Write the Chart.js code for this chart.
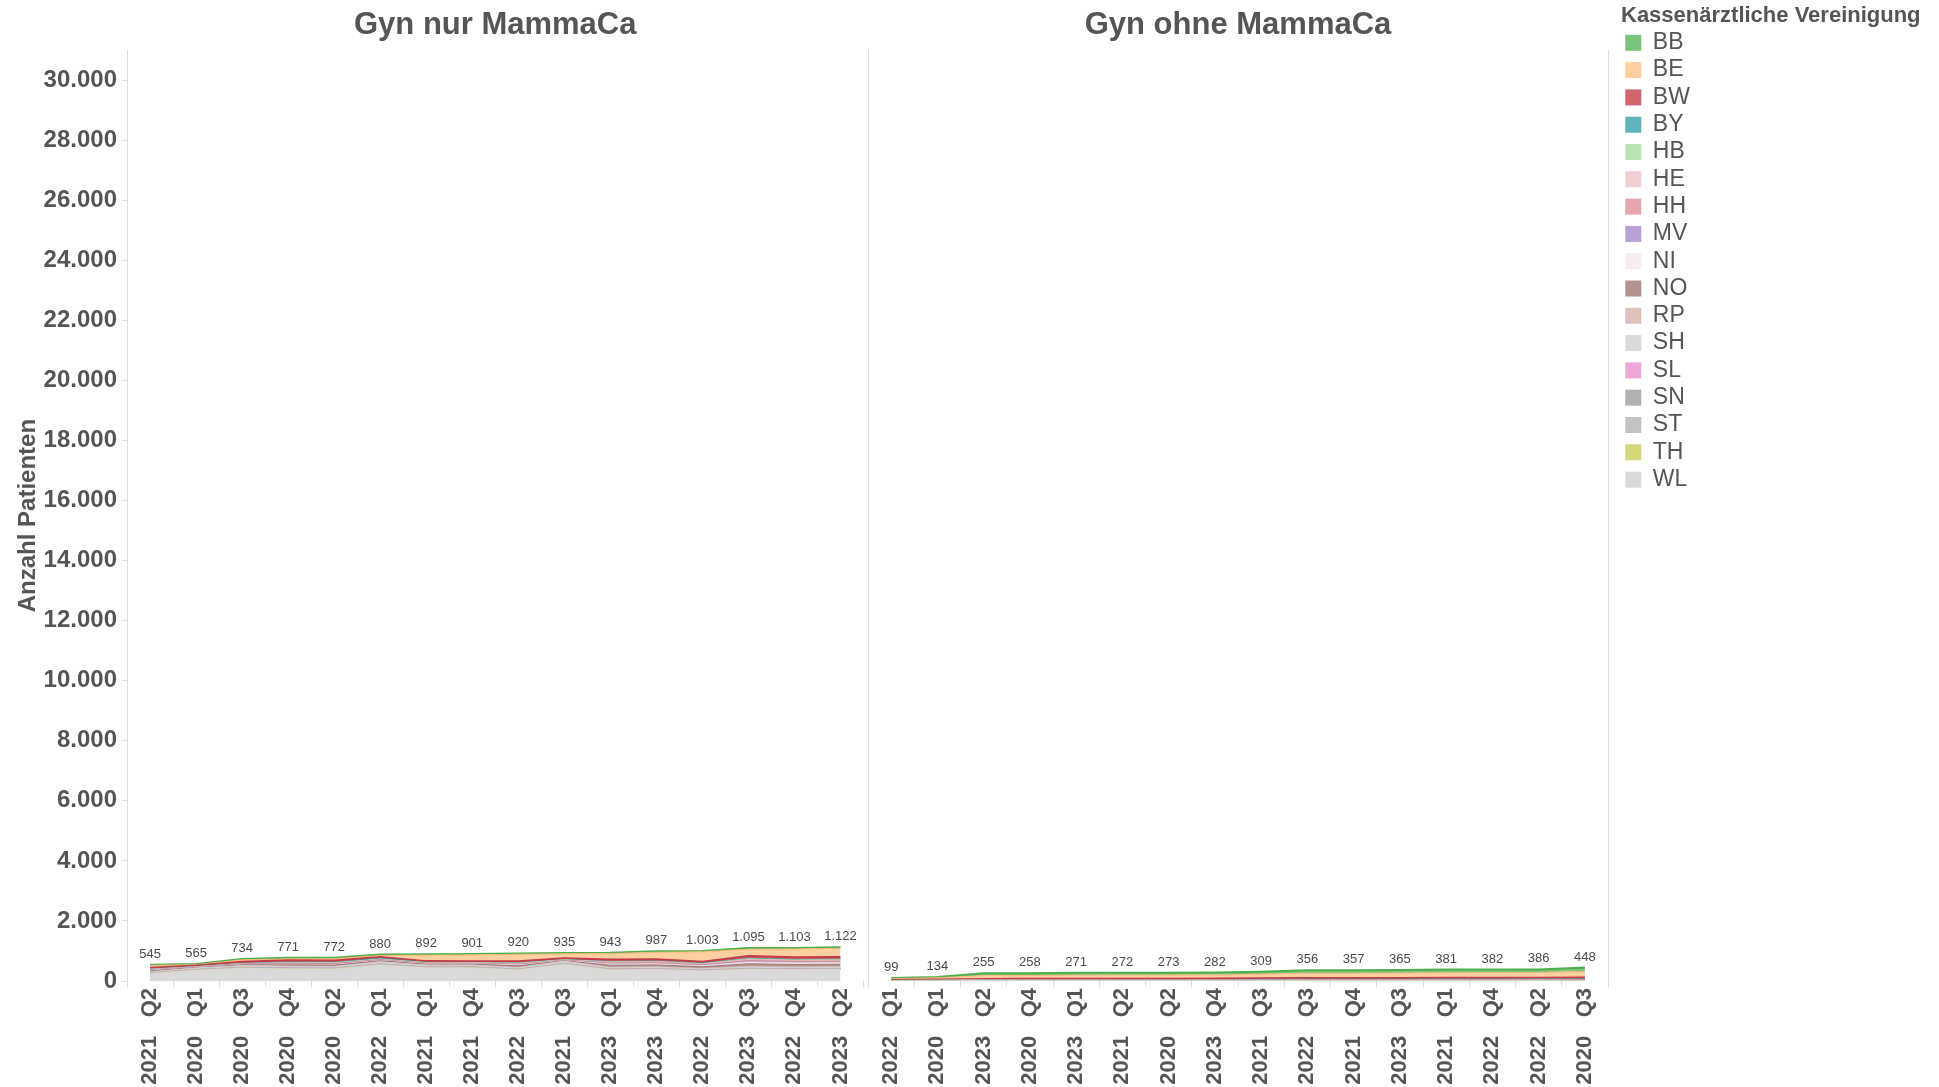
<!DOCTYPE html>
<html lang="de">
<head>
<meta charset="utf-8">
<title>Anzahl Patienten je Quartal und KV</title>
<script src="https://cdn.jsdelivr.net/npm/chart.js@4.4.1/dist/chart.umd.min.js"></script>
<style>
  html, body { margin: 0; padding: 0; background: #fff; }
  #wrap { position: relative; width: 1939px; height: 1087px; overflow: hidden; }
  .panel { position: absolute; top: 0; height: 1087px; }
  #left { left: 0; width: 868px; }
  #right { left: 867px; width: 1072px; }
</style>
</head>
<body>
<div id="wrap">
  <div class="panel" id="left"><canvas id="chartNur"></canvas></div>
  <div class="panel" id="right"><canvas id="chartOhne"></canvas></div>
</div>
<script>
// x axis order as exported from Tableau (not chronological)
const quartersNur = ['2021 Q2', '2020 Q1', '2020 Q3', '2020 Q4', '2020 Q2', '2022 Q1', '2021 Q1', '2021 Q4',
  '2022 Q3', '2021 Q3', '2023 Q1', '2023 Q4', '2022 Q2', '2023 Q3', '2022 Q4', '2023 Q2'];
const quartersOhne = ['2022 Q1', '2020 Q1', '2023 Q2', '2020 Q4', '2023 Q1', '2021 Q2', '2020 Q2', '2023 Q4',
  '2021 Q3', '2022 Q3', '2021 Q4', '2023 Q3', '2021 Q1', '2022 Q4', '2022 Q2', '2020 Q3'];

// totals printed above each point
const totalsNur = [545, 565, 734, 771, 772, 880, 892, 901, 920, 935, 943, 987, 1003, 1095, 1103, 1122];
const totalsOhne = [99, 134, 255, 258, 271, 272, 273, 282, 309, 356, 357, 365, 381, 382, 386, 448];

const yTicks = [0, 2000, 4000, 6000, 8000, 10000, 12000, 14000, 16000, 18000, 20000, 22000, 24000, 26000, 28000, 30000];

// Gyn nur MammaCa, per KV
const BB_nur = [25, 20, 30, 30, 30, 30, 30, 30, 30, 30, 30, 30, 30, 35, 35, 35];
const BE_nur = [80, 30, 60, 50, 60, 50, 200, 210, 230, 150, 200, 230, 330, 230, 280, 290];
const BW_nur = [40, 30, 50, 60, 55, 40, 40, 40, 50, 40, 60, 60, 50, 70, 70, 70];
const BY_nur = [10, 8, 12, 20, 20, 30, 12, 12, 15, 10, 15, 15, 15, 20, 18, 18];
const HB_nur = [5, 3, 5, 8, 8, 8, 5, 5, 8, 4, 10, 10, 10, 15, 12, 12];
const HE_nur = [15, 8, 12, 20, 22, 15, 12, 12, 25, 8, 30, 30, 28, 40, 38, 38];
const HH_nur = [10, 6, 10, 18, 18, 15, 12, 12, 20, 8, 25, 25, 22, 35, 32, 32];
const MV_nur = [5, 3, 5, 8, 8, 6, 5, 5, 8, 4, 10, 10, 10, 15, 12, 12];
const NI_nur = [15, 8, 12, 20, 22, 15, 15, 15, 30, 8, 40, 40, 35, 60, 55, 55];
const NO_nur = [30, 15, 25, 40, 40, 30, 30, 30, 50, 15, 60, 60, 50, 80, 75, 75];
const RP_nur = [10, 5, 8, 12, 12, 10, 8, 8, 15, 5, 20, 20, 18, 30, 25, 25];
const SH_nur = [30, 45, 50, 48, 47, 60, 52, 52, 43, 65, 42, 42, 38, 43, 42, 42];
const SL_nur = [5, 3, 5, 5, 5, 5, 3, 3, 5, 3, 8, 8, 8, 10, 8, 8];
const SN_nur = [10, 15, 15, 15, 15, 18, 15, 15, 12, 18, 12, 12, 12, 12, 12, 12];
const ST_nur = [8, 10, 10, 10, 10, 12, 10, 10, 10, 12, 10, 10, 10, 10, 10, 10];
const TH_nur = [5, 3, 5, 5, 5, 5, 5, 5, 5, 3, 5, 5, 5, 5, 5, 5];
const WL_nur = [242, 353, 420, 402, 395, 531, 438, 437, 364, 552, 366, 380, 332, 385, 374, 383];

// Gyn ohne MammaCa, per KV
const BB_ohne = [20, 28, 75, 74, 78, 77, 76, 78, 80, 98, 97, 100, 104, 100, 102, 125];
const BE_ohne = [45, 60, 110, 112, 118, 119, 120, 124, 140, 160, 162, 166, 172, 170, 176, 205];
const BW_ohne = [12, 16, 25, 26, 27, 27, 28, 29, 32, 36, 36, 37, 40, 48, 42, 50];
const BY_ohne = [4, 5, 8, 8, 8, 8, 8, 8, 9, 10, 10, 10, 11, 12, 11, 12];
const HB_ohne = [1, 2, 3, 3, 3, 3, 3, 3, 4, 4, 4, 4, 4, 4, 4, 5];
const HE_ohne = [2, 3, 4, 4, 4, 4, 4, 4, 5, 5, 5, 5, 5, 5, 5, 6];
const HH_ohne = [2, 3, 4, 4, 4, 4, 4, 4, 4, 5, 5, 5, 5, 5, 5, 6];
const MV_ohne = [1, 1, 2, 2, 2, 2, 2, 2, 2, 3, 3, 3, 3, 3, 3, 3];
const NI_ohne = [2, 3, 3, 4, 4, 4, 4, 4, 5, 5, 5, 5, 6, 5, 6, 6];
const NO_ohne = [3, 4, 4, 5, 5, 5, 5, 6, 6, 7, 7, 7, 7, 7, 7, 8];
const RP_ohne = [1, 2, 2, 2, 3, 3, 3, 3, 3, 4, 4, 4, 4, 4, 4, 4];
const SH_ohne = [1, 1, 2, 2, 2, 2, 2, 2, 2, 3, 3, 3, 3, 3, 3, 3];
const SL_ohne = [1, 1, 1, 1, 2, 2, 2, 2, 2, 2, 2, 2, 2, 2, 2, 2];
const SN_ohne = [2, 3, 3, 4, 4, 4, 4, 4, 5, 5, 5, 5, 5, 5, 5, 6];
const ST_ohne = [1, 1, 2, 2, 2, 2, 2, 2, 2, 3, 3, 3, 3, 3, 3, 3];
const TH_ohne = [0, 0, 1, 1, 1, 1, 1, 1, 1, 1, 1, 1, 1, 1, 1, 1];
const WL_ohne = [1, 1, 6, 4, 4, 5, 5, 6, 7, 5, 5, 5, 6, 5, 7, 3];

const kvCodes = ['BB', 'BE', 'BW', 'BY', 'HB', 'HE', 'HH', 'MV', 'NI', 'NO', 'RP', 'SH', 'SL', 'SN', 'ST', 'TH', 'WL'];
const valuesNur = [BB_nur, BE_nur, BW_nur, BY_nur, HB_nur, HE_nur, HH_nur, MV_nur, NI_nur, NO_nur, RP_nur,
  SH_nur, SL_nur, SN_nur, ST_nur, TH_nur, WL_nur];
const valuesOhne = [BB_ohne, BE_ohne, BW_ohne, BY_ohne, HB_ohne, HE_ohne, HH_ohne, MV_ohne, NI_ohne, NO_ohne, RP_ohne,
  SH_ohne, SL_ohne, SN_ohne, ST_ohne, TH_ohne, WL_ohne];

const kvFill = ['#7bc47b', '#ffcf9f', '#d3646e', '#5fb4bd', '#b7e4b2', '#f2cdd2', '#e6a6ad', '#b9a0d6', '#f8ecef',
  '#b3938e', '#dfc1bc', '#dadada', '#eba8d6', '#b2b2b2', '#c3c3c3', '#d5d57a', '#d9d9d9'];
const kvLine = ['#4daf4a', '#f5b77a', '#c23b47', '#3d9aa4', '#9fd49a', '#e3b3b9', '#d4888f', '#9d80c2', '#eed8dd',
  '#9a7570', '#cba7a1', '#d0d0d0', '#d98bc2', '#b2b2b2', '#c3c3c3', '#c2c25e', '#d9d9d9'];

const textColor = '#555';
const axisColor = '#dddddd';
const fontFamily = '"Liberation Sans", Arial, sans-serif';
Chart.defaults.font.family = fontFamily;
Chart.defaults.color = textColor;

const fmt = (v) => String(v).replace(/\B(?=(\d{3})+(?!\d))/g, '.');

function buildDatasets(values) {
  // Tableau puts the first KV on top of the stack -> feed Chart.js bottom-up
  const sets = kvCodes.map((kv, k) => ({
    label: kv,
    data: values[k],
    backgroundColor: kvFill[k],
    borderColor: kvLine[k],
    borderWidth: (kv === 'BB' || kv === 'BW') ? 2 : 1,
    pointRadius: 0,
    tension: 0
  })).reverse();
  sets.forEach((ds, i) => { ds.fill = i === 0 ? 'origin' : '-1'; });
  return sets;
}

// value labels above the stacks
const totalLabels = {
  id: 'totalLabels',
  afterDatasetsDraw(chart, args, opts) {
    const {ctx, scales: {x, y}} = chart;
    ctx.save();
    ctx.font = '13px ' + fontFamily;
    ctx.fillStyle = '#4a4a4a';
    ctx.textAlign = 'center';
    ctx.textBaseline = 'bottom';
    opts.values.forEach((v, i) => {
      ctx.fillText(fmt(v), x.getPixelForValue(i), y.getPixelForValue(v) - 4);
    });
    ctx.restore();
  }
};

// legend column is wider than its items because of the long title
const legendWidthFix = {
  id: 'legendWidthFix',
  beforeLayout(chart, args, opts) {
    const lg = chart.legend;
    if (lg && !lg._fixedFit) {
      const fit = lg.fit;
      lg.fit = function () { fit.call(this); this.width = opts.width; };
      lg._fixedFit = true;
    }
  }
};

function xScale() {
  return {
    type: 'category',
    offset: true,
    grid: { display: true, drawOnChartArea: false, drawTicks: true, tickLength: 6, color: axisColor, offset: true },
    border: { display: false },
    ticks: {
      autoSkip: false, minRotation: 90, maxRotation: 90, padding: 1, color: textColor,
      font: { size: 22, weight: 'bold' },
      callback(value) { return this.getLabelForValue(value).replace(' ', '   '); }
    },
    afterFit(scale) { scale.height = 106; }
  };
}

function chartTitle(text) {
  return {
    display: true, text: text, color: textColor, fullSize: false,
    font: { size: 31, weight: 'bold' }, padding: { top: 7, bottom: 6 }
  };
}

new Chart(document.getElementById('chartNur'), {
  type: 'line',
  data: { labels: quartersNur, datasets: buildDatasets(valuesNur) },
  plugins: [totalLabels],
  options: {
    responsive: true, maintainAspectRatio: false, animation: false,
    layout: { padding: 0 },
    plugins: {
      legend: { display: false },
      tooltip: { enabled: false },
      title: chartTitle('Gyn nur MammaCa'),
      totalLabels: { values: totalsNur }
    },
    scales: {
      x: xScale(),
      y: {
        stacked: true, min: 0, max: 31000,
        afterBuildTicks(scale) { scale.ticks = yTicks.map(v => ({ value: v })); },
        grid: { drawOnChartArea: false, tickLength: 5, color: axisColor },
        border: { display: true, color: axisColor },
        ticks: { padding: 5, color: textColor, font: { size: 24, weight: 'bold' }, callback: (v) => fmt(v) },
        title: {
          display: true, text: 'Anzahl Patienten', color: textColor,
          font: { size: 24, weight: 'bold' }, padding: { top: 14, bottom: 0 }
        },
        afterFit(scale) { scale.width = 127; }
      }
    }
  }
});

new Chart(document.getElementById('chartOhne'), {
  type: 'line',
  data: { labels: quartersOhne, datasets: buildDatasets(valuesOhne) },
  plugins: [totalLabels, legendWidthFix],
  options: {
    responsive: true, maintainAspectRatio: false, animation: false,
    layout: { padding: 0 },
    plugins: {
      legend: {
        display: true, position: 'right', align: 'start', reverse: true,
        title: {
          display: true, text: 'Kassenärztliche Vereinigung', position: 'start', color: textColor,
          font: { size: 22, weight: 'bold', lineHeight: 1 }, padding: { top: 5, bottom: 0 }
        },
        labels: {
          boxWidth: 16, boxHeight: 16, padding: 4.3, color: textColor, font: { size: 23 },
          generateLabels(chart) {
            const items = Chart.defaults.plugins.legend.labels.generateLabels(chart);
            return items.map(it => ({ ...it, lineWidth: 0, strokeStyle: it.fillStyle }));
          }
        }
      },
      legendWidthFix: { width: 318 },
      tooltip: { enabled: false },
      title: chartTitle('Gyn ohne MammaCa'),
      totalLabels: { values: totalsOhne }
    },
    scales: {
      x: xScale(),
      y: {
        stacked: true, min: 0, max: 31000,
        grid: { drawOnChartArea: false, drawTicks: false, color: axisColor },
        border: { display: true, color: axisColor },
        ticks: { display: false },
        afterFit(scale) { scale.width = 1; }
      },
      y2: {
        type: 'linear', position: 'right', min: 0, max: 31000,
        grid: { drawOnChartArea: false, drawTicks: false, color: axisColor },
        border: { display: true, color: axisColor },
        ticks: { display: false },
        afterFit(scale) { scale.width = 13; }
      }
    }
  }
});
</script>
</body>
</html>
